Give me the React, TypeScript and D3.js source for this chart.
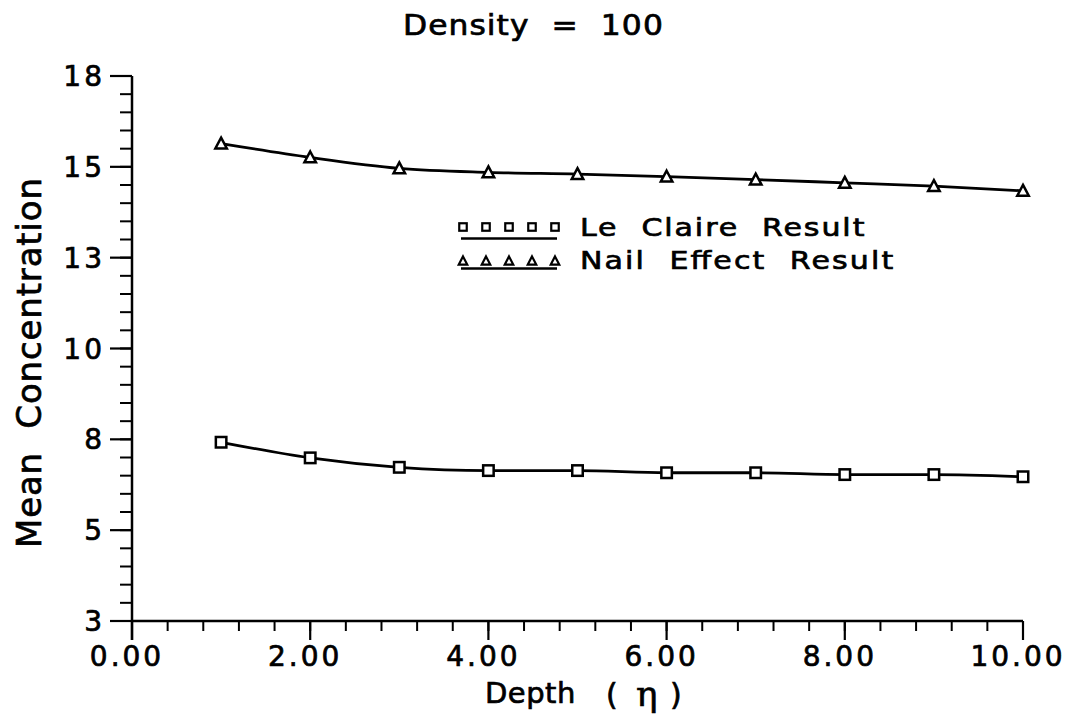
import React from "react";
import * as d3 from "d3";

// Depth positions (eta) and mean concentration for each model
const depths = [1, 2, 3, 4, 5, 6, 7, 8, 9, 10];
const leClaire = [7.42, 6.99, 6.73, 6.64, 6.64, 6.58, 6.58, 6.53, 6.53, 6.47];
const nailEffect = [15.64, 15.26, 14.96, 14.85, 14.8, 14.73, 14.65, 14.56, 14.47, 14.34];

// Axis ticks
const xMajorTicks = [0, 2, 4, 6, 8, 10];
const xTickLabels = ["0.00", "2.00", "4.00", "6.00", "8.00", "10.00"];
const yMajorTicks = [2.5, 5, 7.5, 10, 12.5, 15, 17.5];
const yTickLabels = ["3", "5", "8", "10", "13", "15", "18"];

const seriesNames = ["Le  Claire  Result", "Nail  Effect  Result"];
const titleText = "Density  =  100";

const W = 1075;
const H = 716;
const FONT = "'DejaVu Sans', 'Liberation Sans', Arial, sans-serif";
const TEXT_STROKE = 0.7;

const x = d3.scaleLinear().domain([0, 10]).range([132, 1023]);
const y = d3.scaleLinear().domain([2.5, 17.5]).range([621, 76]);

const xMinor = d3.range(0, 10.0001, 0.4);
const yMinor = d3.range(2.5, 17.5001, 0.5);

const line = d3
  .line<number>()
  .x((_, i) => x(depths[i]))
  .y((d) => y(d))
  .curve(d3.curveMonotoneX);

function Square({ cx, cy, s, sw }: { cx: number; cy: number; s: number; sw: number }) {
  return (
    <rect x={cx - s / 2} y={cy - s / 2} width={s} height={s} fill="#fff" stroke="#000" strokeWidth={sw} />
  );
}

function Triangle({ cx, cy, s, sw }: { cx: number; cy: number; s: number; sw: number }) {
  const h = s * 0.85;
  const p = d3.path();
  p.moveTo(cx, cy - h / 2 - 1);
  p.lineTo(cx + s / 2, cy + h / 2);
  p.lineTo(cx - s / 2, cy + h / 2);
  p.closePath();
  return <path d={p.toString()} fill="#fff" stroke="#000" strokeWidth={sw} strokeLinejoin="miter" />;
}

export default function App() {
  const legendX = d3.range(5).map((i) => 463 + i * 23);
  return (
    <svg
      width={W}
      height={H}
      viewBox={`0 0 ${W} ${H}`}
      style={{ position: "absolute", left: 0, top: 0, background: "#fff" }}
      fontFamily={FONT}
    >
      <rect x={0} y={0} width={W} height={H} fill="#fff" />

      {/* title */}
      <text
        transform="translate(403,35) scale(1.12,1)"
        fontSize={28}
        textLength={232}
        lengthAdjust="spacing"
        xmlSpace="preserve"
        stroke="#000"
        strokeWidth={TEXT_STROKE}
      >
        {titleText}
      </text>

      {/* y axis */}
      <line x1={x(0)} x2={x(0)} y1={y(17.5)} y2={640} stroke="#000" strokeWidth={2.5} />
      {yMinor.map((v) => (
        <line key={"ym" + v} x1={x(0) - 12} x2={x(0)} y1={y(v)} y2={y(v)} stroke="#000" strokeWidth={2} />
      ))}
      {yMajorTicks.map((v, i) => (
        <g key={"yM" + v}>
          <line x1={x(0) - 22} x2={x(0)} y1={y(v)} y2={y(v)} stroke="#000" strokeWidth={2.2} />
          <text
            x={105}
            y={y(v) + 10}
            fontSize={28}
            textAnchor="end"
            letterSpacing={3}
            stroke="#000"
            strokeWidth={TEXT_STROKE}
          >
            {yTickLabels[i]}
          </text>
        </g>
      ))}

      {/* x axis */}
      <line x1={x(0)} x2={x(10)} y1={y(2.5)} y2={y(2.5)} stroke="#000" strokeWidth={2.5} />
      {xMinor.map((v) => (
        <line key={"xm" + v} x1={x(v)} x2={x(v)} y1={y(2.5)} y2={y(2.5) + 10} stroke="#000" strokeWidth={2} />
      ))}
      {xMajorTicks.map((v, i) => (
        <g key={"xM" + v}>
          <line x1={x(v)} x2={x(v)} y1={y(2.5)} y2={y(2.5) + 19} stroke="#000" strokeWidth={2.2} />
          <text
            x={x(v) - 5}
            y={666}
            fontSize={28}
            textAnchor="middle"
            letterSpacing={3}
            stroke="#000"
            strokeWidth={TEXT_STROKE}
          >
            {xTickLabels[i]}
          </text>
        </g>
      ))}

      {/* axis titles */}
      <text
        transform="translate(41,548) rotate(-90)"
        fontSize={34}
        textLength={370}
        lengthAdjust="spacing"
        xmlSpace="preserve"
        stroke="#000"
        strokeWidth={TEXT_STROKE}
      >
        Mean  Concentration
      </text>
      <text x={485} y={703} fontSize={29} letterSpacing={0.5} stroke="#000" strokeWidth={TEXT_STROKE}>
        Depth
      </text>
      <text x={606} y={705} fontSize={30} stroke="#000" strokeWidth={TEXT_STROKE}>
        (
      </text>
      <text
        x={636}
        y={706}
        fontSize={36}
        fontFamily="'DejaVu Serif', 'Liberation Serif', serif"
        stroke="#000"
        strokeWidth={0.6}
      >
        η
      </text>
      <text x={670} y={705} fontSize={30} stroke="#000" strokeWidth={TEXT_STROKE}>
        )
      </text>

      {/* series lines */}
      <path d={line(leClaire) || ""} fill="none" stroke="#000" strokeWidth={2.8} />
      <path d={line(nailEffect) || ""} fill="none" stroke="#000" strokeWidth={2.8} />

      {/* markers */}
      {leClaire.map((v, i) => (
        <Square key={"s" + i} cx={x(depths[i])} cy={y(v)} s={10.5} sw={2.5} />
      ))}
      {nailEffect.map((v, i) => (
        <Triangle key={"t" + i} cx={x(depths[i])} cy={y(v)} s={11.5} sw={2.5} />
      ))}

      {/* legend */}
      <line x1={461} x2={557} y1={238.5} y2={238.5} stroke="#000" strokeWidth={2.6} />
      {legendX.map((lx) => (
        <Square key={"ls" + lx} cx={lx} cy={227} s={7.5} sw={2.2} />
      ))}
      <text
        transform="translate(580,236) scale(1.2,1)"
        fontSize={25}
        textLength={237}
        lengthAdjust="spacing"
        xmlSpace="preserve"
        stroke="#000"
        strokeWidth={TEXT_STROKE}
      >
        {seriesNames[0]}
      </text>
      <line x1={461} x2={557} y1={268.5} y2={268.5} stroke="#000" strokeWidth={2.6} />
      {legendX.map((lx) => (
        <Triangle key={"lt" + lx} cx={lx} cy={261} s={8.5} sw={2.2} />
      ))}
      <text
        transform="translate(580,269) scale(1.2,1)"
        fontSize={25}
        textLength={261}
        lengthAdjust="spacing"
        xmlSpace="preserve"
        stroke="#000"
        strokeWidth={TEXT_STROKE}
      >
        {seriesNames[1]}
      </text>
    </svg>
  );
}
